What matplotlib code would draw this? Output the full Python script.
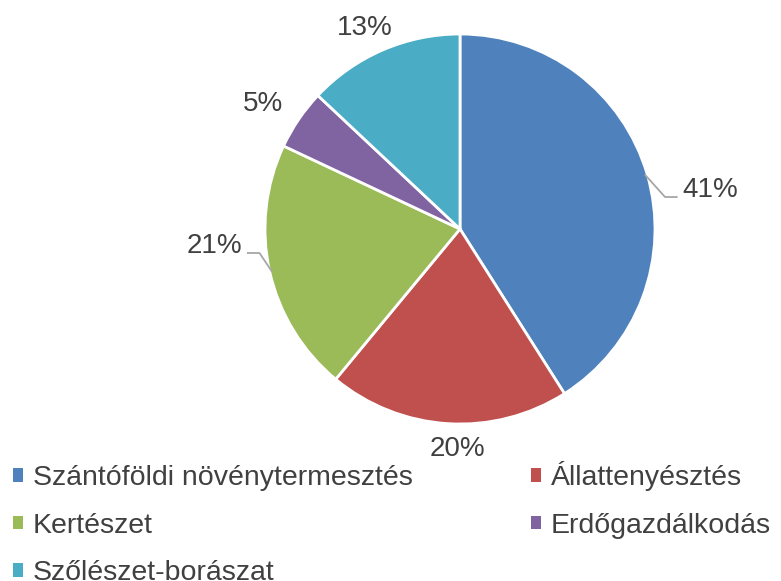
import numpy as np
import matplotlib.pyplot as plt
from matplotlib.patches import Patch

categories = ["Szántóföldi növénytermesztés", "Állattenyésztés", "Kertészet",
              "Erdőgazdálkodás", "Szőlészet-borászat"]
shares = [41, 20, 21, 5, 13]
pct_labels = ["41%", "20%", "21%", "5%", "13%"]
colors = ["#4F81BD", "#C0504D", "#9BBB59", "#8064A2", "#4BACC6"]

plt.rcParams['font.family'] = ['Liberation Sans', 'DejaVu Sans']

fig = plt.figure(figsize=(7.81, 5.81), dpi=100)
# pie centred at about (460, 229) px, radius 195 px
cx, cy, r = 460, 581 - 229, 195
ax = fig.add_axes([(cx - r) / 781, (cy - r) / 581, 2 * r / 781, 2 * r / 581])
wedges, _ = ax.pie(shares, colors=colors, startangle=90, counterclock=False,
                   radius=1, wedgeprops=dict(edgecolor="white", linewidth=2))
ax.set_xlim(-1, 1)
ax.set_ylim(-1, 1)
ax.set_aspect("equal")
ax.axis("off")

# label placement (distance from centre in radii, angle tweak in degrees)
label_pos = {0: (1.30, -6.5), 1: (1.11, 3.0), 2: (1.26, -9.5), 3: (1.21, 1.0), 4: (1.16, 1.5)}
leader = {0, 2}
for i, w in enumerate(wedges):
    mid = (w.theta1 + w.theta2) / 2
    dist, tweak = label_pos[i]
    a = np.deg2rad(mid + tweak)
    x, y = dist * np.cos(a), dist * np.sin(a) - 0.02
    ax.text(x, y, pct_labels[i], ha="center", va="center", fontsize=20, color="#404040")
    if i in leader:
        am = np.deg2rad(mid)
        ex, ey = 0.99 * np.cos(am), 0.99 * np.sin(am)
        side = 1 if x > 0 else -1
        hx = x - side * 0.17
        hy = y - 0.035
        kx = hx - side * 0.06
        ax.plot([ex, kx, hx], [ey, hy, hy], color="#A6A6A6", lw=1.3,
                clip_on=False)

handles = [Patch(facecolor=c, edgecolor="none") for c in colors]
order = [0, 2, 4, 1, 3]
fig.legend([handles[i] for i in order], [categories[i] for i in order],
           loc="upper left", bbox_to_anchor=(-0.013, 0.245), ncol=2, frameon=False,
           fontsize=20.5, handlelength=0.35, handleheight=0.35, handletextpad=0.35,
           columnspacing=4.15, labelspacing=0.75, borderpad=0.3, labelcolor="#404040")

fig.savefig("out.png", dpi=100)
